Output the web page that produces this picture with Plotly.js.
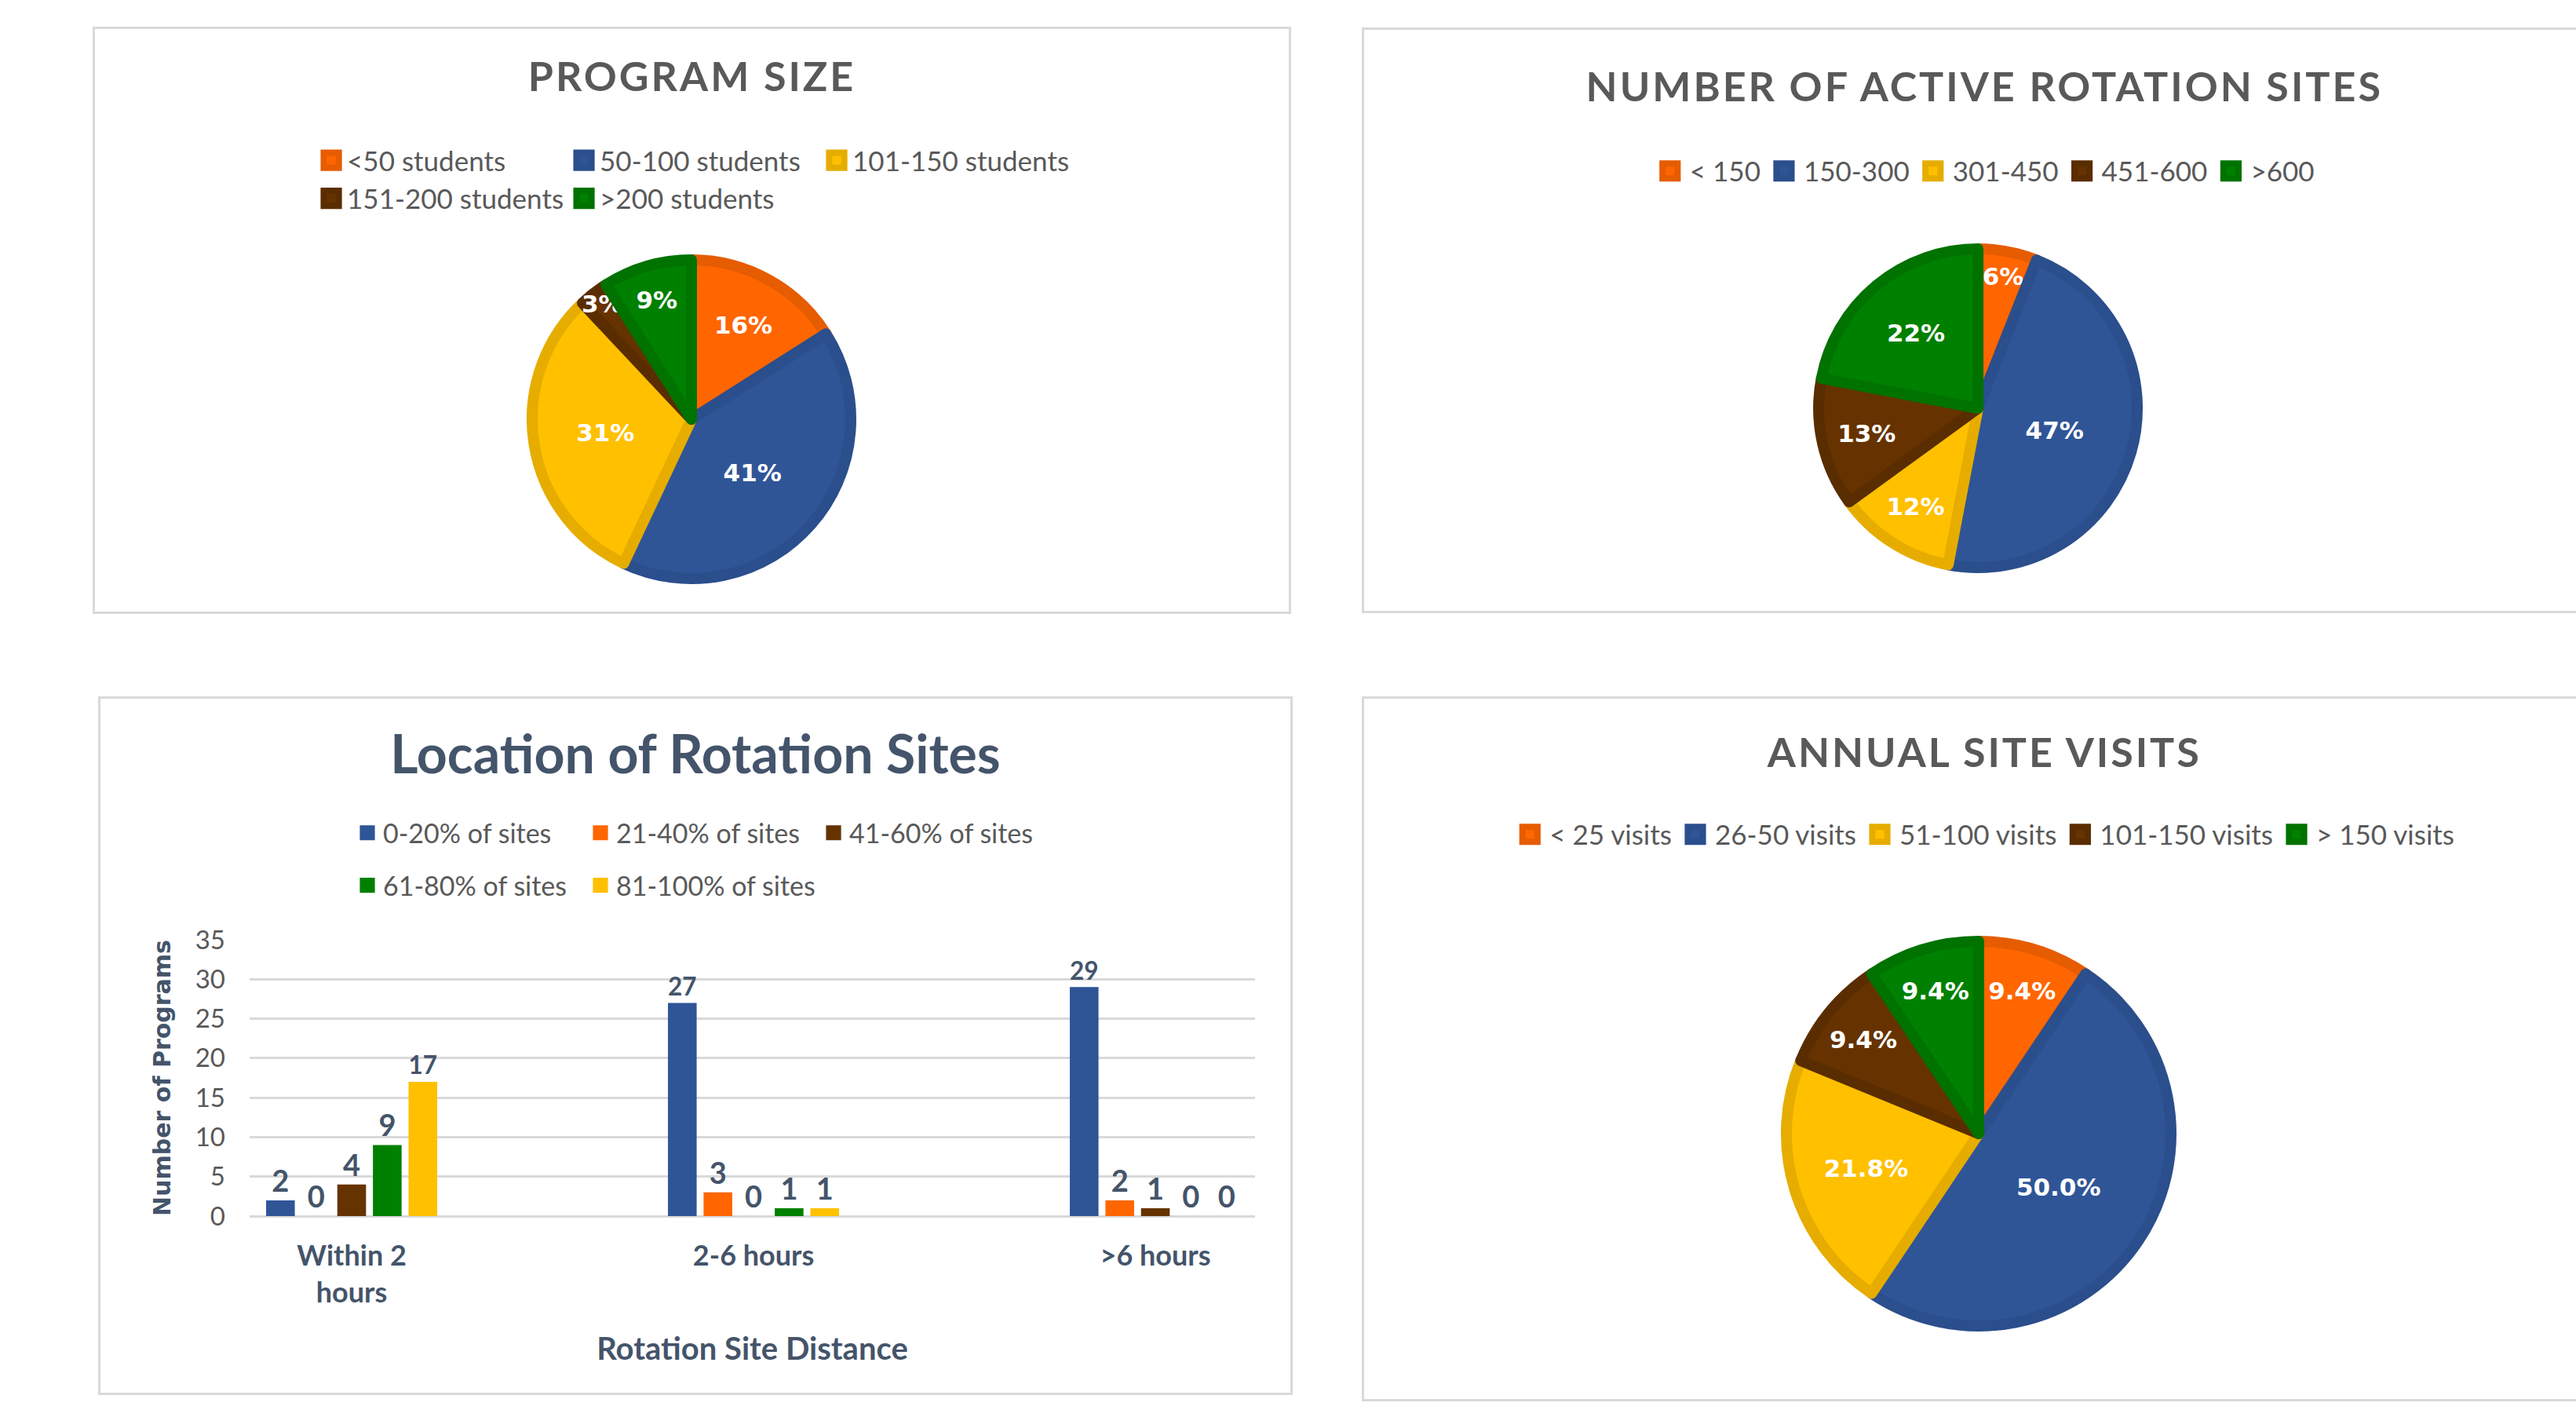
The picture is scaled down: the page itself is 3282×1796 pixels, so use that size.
<!DOCTYPE html>
<html><head><meta charset="utf-8">
<script src="https://cdn.plot.ly/plotly-3.0.1.min.js"></script>
<style>
html,body{margin:0;padding:0;background:#fff;width:3282px;height:1796px;overflow:hidden;position:relative}
.panel{position:absolute;box-sizing:border-box;border:3px solid #D9D9D9;background:#fff}
.pie .gtitle{letter-spacing:3px}
#p1 g.legendsymbols path{transform:translate(20px,0px) scale(1.6) !important}
#p3 g.legendsymbols path{transform:translate(20px,0px) scale(1.6) !important}
#p2 g.legendsymbols path, #p4 g.legendsymbols path{transform:translate(25px,0px) scale(1.6) !important}
</style></head><body>
<div id="p1" class="panel pie" style="left:118px;top:34px;width:1527px;height:748px"></div>
<div id="p2" class="panel pie" style="left:1735px;top:35px;width:1574px;height:746px"></div>
<div id="p3" class="panel" style="left:125px;top:887px;width:1522px;height:890px"></div>
<div id="p4" class="panel pie" style="left:1735px;top:887px;width:1574px;height:898px"></div>
<script>
// ---- data ----
const sizeLabels = ['<50 students','50-100 students','101-150 students','151-200 students','>200 students'];
const sizePct = [16, 41, 31, 3, 9];

const sitesLabels = ['< 150','150-300','301-450','451-600','>600'];
const sitesPct = [6, 47, 12, 13, 22];

const distCats = ['Within 2 hours','2-6 hours','>6 hours'];
const distTickLabels = ['Within 2<br>hours','2-6 hours','>6 hours'];
const shareSeries = ['0-20% of sites','21-40% of sites','41-60% of sites','61-80% of sites','81-100% of sites'];
const share0to20 = [2, 27, 29];
const share21to40 = [0, 3, 2];
const share41to60 = [4, 0, 1];
const share61to80 = [9, 1, 0];
const share81to100 = [17, 1, 0];

const visitLabels = ['< 25 visits','26-50 visits','51-100 visits','101-150 visits','> 150 visits'];
const visitPct = [9.4, 50.0, 21.8, 9.4, 9.4];

// ---- styles ----
const pieFill = ['#FF6600','#2F5597','#FFC000','#663300','#008000'];
const pieLine = ['#E65C00','#2B4E8C','#E6AD00','#5A2D00','#007200'];
const barColors = ['#2F5597','#FF6600','#663300','#008000','#FFC000'];
const TXT = 'Lato, "Open Sans", sans-serif';
const cfg = {displayModeBar:false, staticPlot:true};

function pieTrace(labels, values, domain, tmpl) {
  return {
    type:'pie', labels:labels, values:values, sort:false, direction:'clockwise', rotation:0,
    marker:{colors:pieFill, line:{color:pieLine, width:14}},
    texttemplate:tmpl, textposition:'inside', insidetextorientation:'horizontal',
    textfont:{family:'"DejaVu Sans", sans-serif', size:31, color:'#FFFFFF', weight:'bold'},
    domain:domain, hoverinfo:'none'
  };
}
function pieTitle(text, yFrac, xFrac) {
  return {text:text, font:{family:TXT, size:52, color:'#595959', weight:'bold'},
          x:xFrac, xref:'container', xanchor:'center', y:yFrac, yref:'container', yanchor:'middle'};
}
const legendFont = {family:TXT, size:35, color:'#595959'};

// Panel 1: Program size
Plotly.newPlot('p1', [pieTrace(sizeLabels, sizePct, {x:[0.3124,0.6812], y:[0.0566,0.6038]}, '%{percent:.0%}')], {
  width:1521, height:742, margin:{l:213, r:207, t:0, b:0},
  paper_bgcolor:'#fff', plot_bgcolor:'#fff',
  title: pieTitle('PROGRAM SIZE', 1 - 61/742, 0.5),
  showlegend:true,
  legend:{orientation:'h', x:0.0618, xanchor:'left', y:0.742, yanchor:'middle', entrywidth:277,
          font:legendFont, traceorder:'normal'},
  uniformtext:{minsize:31, mode:'show'}
}, cfg);

// Panel 2: Active rotation sites
Plotly.newPlot('p2', [pieTrace(sitesLabels, sitesPct, {x:[0.3693,0.6282], y:[0.0743,0.623]}, '%{percent:.0%}')], {
  width:1568, height:740, margin:{l:0, r:0, t:0, b:0},
  paper_bgcolor:'#fff', plot_bgcolor:'#fff',
  title: pieTitle('NUMBER OF ACTIVE ROTATION SITES', 1 - 73/740, 0.504),
  showlegend:true,
  legend:{orientation:'h', x:0.504, xanchor:'center', y:1 - 180/740, yanchor:'middle', itemwidth:40,
          font:legendFont, traceorder:'normal'},
  uniformtext:{minsize:31, mode:'show'}
}, cfg);

// Panel 3: Location of rotation sites (grouped bars)
const barSeries = [share0to20, share21to40, share41to60, share61to80, share81to100];
const barTraces = barSeries.map((vals, i) => ({
  type:'bar', x:distCats, y:vals, name:shareSeries[i],
  marker:{color:barColors[i]},
  texttemplate:'%{y}', textposition:'outside', cliponaxis:false,
  textfont:{family:TXT, size:38, color:'#44546A', weight:'bold'},
  legend: i < 3 ? 'legend' : 'legend2', hoverinfo:'none'
}));
Plotly.newPlot('p3', barTraces, {
  width:1516, height:884, margin:{l:190, r:45, t:307, b:225},
  paper_bgcolor:'#fff', plot_bgcolor:'#fff',
  barmode:'group', bargap:0.557, bargroupgap:0.194,
  title:{text:'Location of Rotation Sites', font:{family:TXT, size:68, color:'#44546A', weight:'bold'},
         x:0.5, xref:'container', xanchor:'center', y:1 - 71/884, yref:'container', yanchor:'middle'},
  showlegend:true,
  legend:{orientation:'h', x:0.1015, xanchor:'left', y:1.386, yanchor:'middle', entrywidth:252,
          font:{family:TXT, size:34, color:'#595959'}, traceorder:'normal'},
  legend2:{orientation:'h', x:0.1015, xanchor:'left', y:1.196, yanchor:'middle', entrywidth:252,
          font:{family:TXT, size:34, color:'#595959'}, traceorder:'normal'},
  xaxis:{type:'category', range:[-0.254, 2.248], tickvals:distCats, ticktext:distTickLabels,
         showgrid:false, showline:false, zeroline:false, ticks:'', ticklabelstandoff:26,
         tickfont:{family:TXT, size:36, color:'#44546A', weight:'bold'},
         title:{text:'Rotation Site Distance', standoff:38,
                font:{family:TXT, size:40, color:'#44546A', weight:'bold'}}},
  yaxis:{range:[0,35], tick0:0, dtick:5, showline:false, ticks:'',
         gridcolor:'#D9D9D9', gridwidth:3, zeroline:true, zerolinecolor:'#D9D9D9', zerolinewidth:3,
         ticklabelstandoff:30, tickfont:{family:TXT, size:33, color:'#595959'},
         title:{text:'Number of Programs', standoff:22,
                font:{family:'"DejaVu Sans", sans-serif', size:30, color:'#44546A', weight:'bold'}}}
}, cfg);

// Panel 4: Annual site visits
Plotly.newPlot('p4', [pieTrace(visitLabels, visitPct, {x:[0.3431,0.6556], y:[0.1043,0.6536]}, '%{percent:.1%}')], {
  width:1568, height:892, margin:{l:0, r:0, t:0, b:0},
  paper_bgcolor:'#fff', plot_bgcolor:'#fff',
  title: pieTitle('ANNUAL SITE VISITS', 1 - 69/892, 0.504),
  showlegend:true,
  legend:{orientation:'h', x:0.504, xanchor:'center', y:1 - 173/892, yanchor:'middle', itemwidth:40,
          font:legendFont, traceorder:'normal'},
  uniformtext:{minsize:31, mode:'show'}
}, cfg);
</script>
</body></html>
